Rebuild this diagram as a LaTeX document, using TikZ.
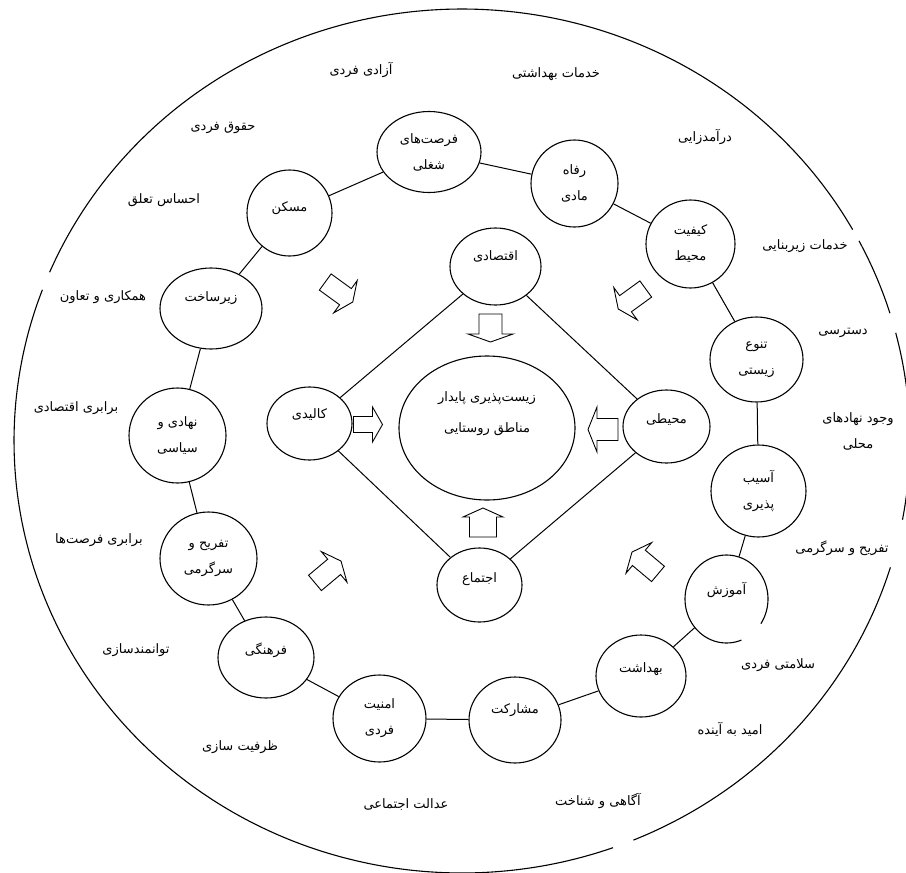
\documentclass[tikz,border=0pt]{standalone}
\usepackage{fontspec}
\newfontfamily\arabicfont[Script=Arabic]{DejaVu Sans}
\TeXXeTstate=1
\usetikzlibrary{shapes.geometric}
\newcommand{\fa}[1]{\beginR #1\endR}
\newcommand{\lift}[2]{\raisebox{#1}[0pt][0pt]{#2}}
\tikzset{
  txt/.style={font=\arabicfont\fontsize{13}{26}\selectfont, align=center, inner sep=1pt},
  ring/.style={txt, draw, ellipse, line width=1.1pt, fill=white, inner sep=0pt},
  link/.style={line width=1pt},
  outerline/.style={line width=1.1pt},
  arrowline/.style={draw, fill=white, line width=0.9pt, line join=miter},
  pics/barrow/.style n args={4}{code={
    \path[arrowline] ({-#1/2},{-#2}) -- ({#1/2-#4},{-#2}) -- ({#1/2-#4},{-#3}) -- ({#1/2},0) -- ({#1/2-#4},{#3}) -- ({#1/2-#4},{#2}) -- ({-#1/2},{#2}) -- cycle;
  }},
}
\begin{document}
\begin{tikzpicture}[x=1pt,y=-1pt]
\useasboundingbox (0,0) rectangle (906,873);
\fill[white] (0,0) rectangle (906,873);
% outer boundary
\foreach \a/\b in {17/67.5, 70.3/200.5, 203/330.7, 332.4/342.8, 345.5/370.5}{
  \draw[outerline] plot[domain=\a:\b, samples=60, smooth] ({462+448*cos(\x)},{441+432*sin(\x)});
}
% outer labels
\node[txt] (o1) at (361,70) {\fa{آزادی فردی}};
\node[txt] (o2) at (556,74) {\fa{خدمات بهداشتی}};
\node[txt] (o3) at (223,128) {\fa{حقوق فردی}};
\node[txt] (o4) at (705,137) {\fa{درآمدزایی}};
\node[txt] (o5) at (164,200) {\fa{احساس تعلق}};
\node[txt] (o6) at (805,246) {\fa{خدمات زیربنایی}};
\node[txt] (o7) at (103,297) {\fa{همکاری و تعاون}};
\node[txt] (o8) at (843,333) {\fa{دسترسی}};
\node[txt] (o9) at (76,408) {\fa{برابری اقتصادی}};
\node[txt] (o10) at (858,431) {\fa{وجود نهادهای}\\\fa{محلی}};
\node[txt] (o11) at (99,540) {\fa{برابری فرصت‌ها}};
\node[txt] (o12) at (842,548) {\fa{تفریح و سرگرمی}};
\node[txt] (o13) at (136,650) {\fa{توانمندسازی}};
\node[txt] (o14) at (778,665) {\fa{سلامتی فردی}};
\node[txt] (o15) at (730,729) {\fa{امید به آینده}};
\node[txt] (o16) at (240,747) {\fa{ظرفیت سازی}};
\node[txt] (o17) at (406,805) {\fa{عدالت اجتماعی}};
\node[txt] (o18) at (598,801) {\fa{آگاهی و شناخت}};
% ring nodes
\node[ring, minimum width=104, minimum height=81] (job) at (429,152) {\fa{فرصت‌های}\\\fa{شغلی}};
\node[ring, minimum width=87, minimum height=87] (refah) at (574.5,183.5) {\fa{رفاه}\\\fa{مادی}};
\node[ring, minimum width=89, minimum height=88] (kef) at (690.5,244) {\fa{کیفیت}\\\fa{محیط}};
\node[ring, minimum width=93, minimum height=85] (tan) at (756.5,359.5) {\fa{تنوع}\\\fa{زیستی}};
\node[ring, minimum width=95, minimum height=92] (asib) at (758.5,491) {\fa{آسیب}\\\fa{پذیری}};
\node[ring, draw=none, minimum width=83, minimum height=88] (amoz) at (726.5,599) {\lift{5pt}{\fa{آموزش}}};
\draw[line width=1.1pt] plot[domain=69:394, samples=80, smooth] ({726.5+41.5*cos(\x)},{599+44*sin(\x)});
\node[ring, minimum width=90, minimum height=82] (behd) at (641,676) {\lift{4pt}{\fa{بهداشت}}};
\node[ring, minimum width=92, minimum height=86] (mosh) at (515,720) {\lift{7pt}{\fa{مشارکت}}};
\node[ring, minimum width=93, minimum height=87] (amn) at (379.5,718.5) {\fa{امنیت}\\\fa{فردی}};
\node[ring, minimum width=96, minimum height=81] (farh) at (266,657.5) {\lift{3pt}{\fa{فرهنگی}}};
\node[ring, minimum width=97, minimum height=93] (taf) at (208.5,558.5) {\fa{تفریح و}\\\fa{سرگرمی}};
\node[ring, minimum width=97, minimum height=95] (nah) at (177.5,435.5) {\fa{نهادی و}\\\fa{سیاسی}};
\node[ring, minimum width=102, minimum height=81] (zir) at (211,308.5) {\lift{7pt}{\fa{زیرساخت}}};
\node[ring, minimum width=85, minimum height=86] (mask) at (289.5,213) {\lift{2pt}{\fa{مسکن}}};
\foreach \p/\q in {job/refah, refah/kef, kef/tan, tan/asib, asib/amoz, amoz/behd, behd/mosh, mosh/amn, amn/farh, farh/taf, taf/nah, nah/zir, zir/mask, mask/job}
  \draw[link] (\p) -- (\q);
% inner diamond
\node[ring, minimum width=91, minimum height=77] (eco) at (495.5,266.5) {\lift{6pt}{\fa{اقتصادی}}};
\node[ring, minimum width=85, minimum height=73] (kal) at (309.5,423.5) {\lift{5pt}{\fa{کالیدی}}};
\node[ring, minimum width=87, minimum height=73] (moh) at (666.5,426.5) {\lift{3pt}{\fa{محیطی}}};
\node[ring, minimum width=85, minimum height=74] (ejt) at (479.5,585) {\lift{3pt}{\fa{اجتماع}}};
\node[ring, minimum width=176, minimum height=144] (core) at (487,428) {\lift{13pt}{\begin{tabular}{@{}c@{}}\fa{زیست‌پذیری پایدار}\\[5pt]\fa{مناطق روستایی}\end{tabular}}};
\draw[link] (eco) -- (kal);
\draw[link] (kal) -- (ejt);
\draw[link] (ejt) -- (moh);
\draw[link] (moh) -- (eco);
% block arrows
\pic[rotate=-90] at (490.5,328) {barrow={28}{11.5}{22.5}{8}};
\pic at (368,424.5) {barrow={29}{8}{17.5}{10}};
\pic[rotate=180] at (603,429.5) {barrow={30}{11}{22.5}{9}};
\pic[rotate=90] at (483,522.5) {barrow={29}{13.5}{20}{9}};
\pic[rotate=-36] at (339,292) {barrow={34}{10}{20}{9}};
\pic[rotate=-144] at (632,299) {barrow={34}{10}{20}{9}};
\pic[rotate=40] at (328,572) {barrow={34}{10}{20}{9}};
\pic[rotate=140] at (645,563) {barrow={34}{10}{20}{9}};
\end{tikzpicture}
\end{document}
